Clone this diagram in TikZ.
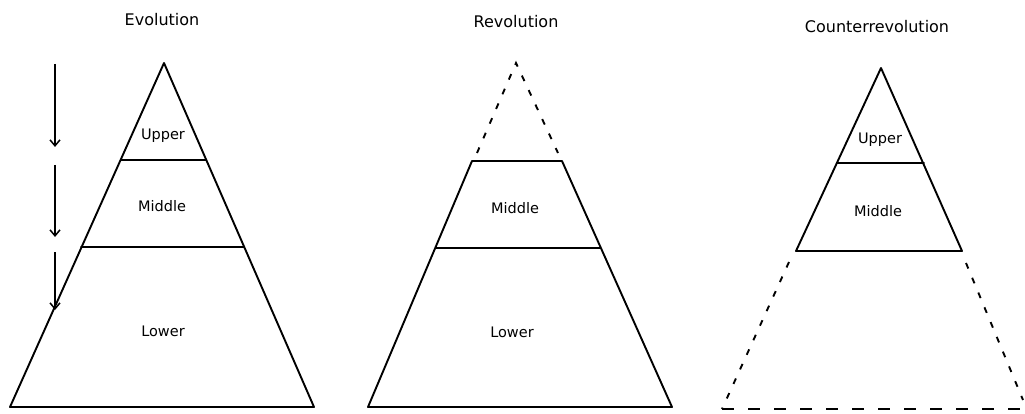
\documentclass[tikz,border=0pt]{standalone}
\usepackage{fontspec}
\setmainfont{DejaVu Sans}
\usetikzlibrary{arrows.meta}
\begin{document}
\begin{tikzpicture}[x=1pt,y=-1pt,
  edge/.style={line width=1.9pt,line join=round,line cap=round},
  dashedge/.style={line width=1.9pt,dash pattern=on 6pt off 10pt},
  dashbase/.style={line width=1.9pt,dash pattern=on 12pt off 14pt},
  title/.style={font=\fontsize{16}{18}\selectfont},
  lab/.style={font=\fontsize{14.5}{16}\selectfont},
  flow/.style={line width=1.5pt,-{Straight Barb[length=6pt,width=10pt,line width=1.5pt]}}]
\useasboundingbox (0,0) rectangle (1025,414);
% ---------- Evolution ----------
\node[title] (t1) at (162,20) {Evolution};
\coordinate (a1) at (164,63);
\coordinate (u1l) at (121,160); \coordinate (u1r) at (206,160);
\coordinate (m1l) at (81,247);  \coordinate (m1r) at (244,247);
\coordinate (b1l) at (10,407);  \coordinate (b1r) at (314,407);
\draw[edge] (a1) -- (b1l) -- (b1r) -- cycle;
\draw[edge] (u1l) -- (u1r);
\draw[edge] (m1l) -- (m1r);
\node[lab] (up1) at (163,136) {Upper};
\node[lab] (mi1) at (162,206) {Middle};
\node[lab] (lo1) at (163,331) {Lower};
\coordinate (f1s) at (55,64);  \coordinate (f1e) at (55,147);
\coordinate (f2s) at (55,165); \coordinate (f2e) at (55,237);
\coordinate (f3s) at (55,252); \coordinate (f3e) at (55,310);
\draw[flow] (f1s) -- (f1e);
\draw[flow] (f2s) -- (f2e);
\draw[flow] (f3s) -- (f3e);
% ---------- Revolution ----------
\node[title] (t2) at (516,22) {Revolution};
\coordinate (a2) at (516,63);
\coordinate (d2l) at (477,153); \coordinate (d2r) at (558,153);
\coordinate (u2l) at (472,161); \coordinate (u2r) at (562,161);
\coordinate (m2l) at (436,248); \coordinate (m2r) at (600,248);
\coordinate (b2l) at (368,407); \coordinate (b2r) at (672,407);
\draw[dashedge] (d2l) -- (a2) -- (d2r);
\draw[edge] (u2l) -- (u2r) -- (b2r) -- (b2l) -- cycle;
\draw[edge] (m2l) -- (m2r);
\node[lab] (mi2) at (515,208) {Middle};
\node[lab] (lo2) at (512,332) {Lower};
% ---------- Counterrevolution ----------
\node[title] (t3) at (877,27) {Counterrevolution};
\coordinate (a3) at (881,68);
\coordinate (u3l) at (837,163); \coordinate (u3r) at (924,163);
\coordinate (m3l) at (796,251); \coordinate (m3r) at (962,251);
\coordinate (d3l) at (789,262); \coordinate (d3r) at (966,263);
\coordinate (b3l) at (722,409); \coordinate (b3r) at (1025,409);
\coordinate (e3r) at (1023,400);
\draw[edge] (a3) -- (m3l) -- (m3r) -- cycle;
\draw[edge] (u3l) -- (u3r);
\draw[dashedge] (d3l) -- (b3l);
\draw[dashedge] (d3r) -- (e3r);
\draw[dashbase] (b3l) -- (b3r);
\node[lab] (up3) at (880,140) {Upper};
\node[lab] (mi3) at (878,211) {Middle};
\end{tikzpicture}
\end{document}
